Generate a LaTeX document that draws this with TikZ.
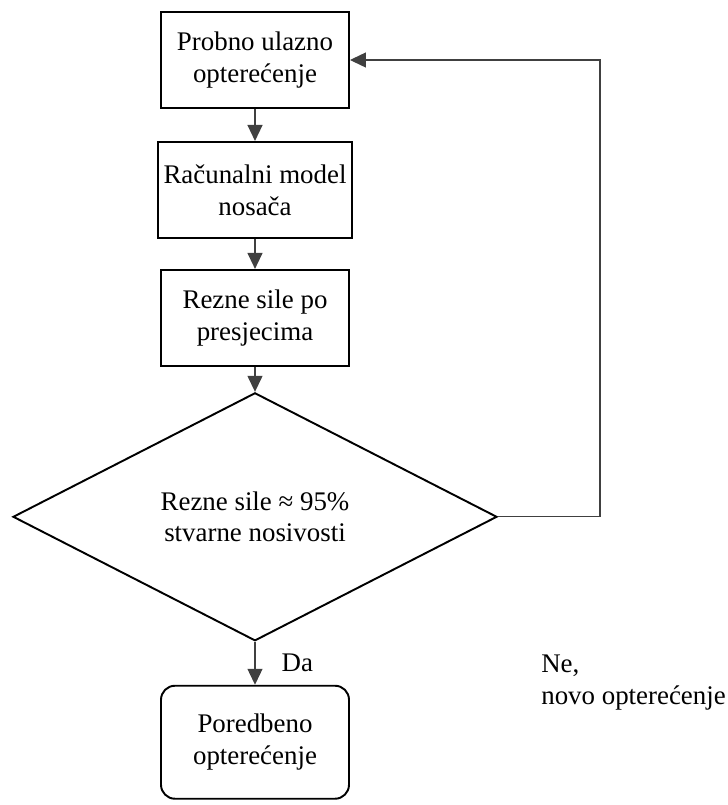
\documentclass[tikz,border=0pt]{standalone}
\usepackage{fontspec}
\setmainfont{Liberation Serif}
\usetikzlibrary{arrows.meta,positioning,shapes.geometric}

\begin{document}
\begin{tikzpicture}[
    node distance=0.62cm,
    box/.style={draw, line width=1.1pt, align=center, font=\fontsize{15.3}{18.2}\selectfont, minimum width=3.76cm, minimum height=1.92cm},
    decision/.style={box, diamond, minimum width=9.68cm, minimum height=4.96cm, inner sep=0pt},
    terminal/.style={box, rounded corners=0.28cm, minimum height=2.26cm},
    note/.style={font=\fontsize{15.3}{18.2}\selectfont, inner sep=0pt},
    link/.style={draw=black!75, line width=0.7pt, -{Triangle[length=0.32cm, width=0.3cm]}}]
    \useasboundingbox (0,0) rectangle (14.56,-16.1);
    \node[box] (trial) at (5.1,-1.2) {Probno ulazno\\opterećenje};
    \node[box, below=0.64cm of trial] (model) {Računalni model\\nosača};
    \node[box, below=0.6cm of model] (forces) {Rezne sile po\\presjecima};
    \node[decision, below=0.5cm of forces] (check) {Rezne sile ≈ 95\%\\stvarne nosivosti};
    \node[terminal, below=0.86cm of check] (result) {Poredbeno\\opterećenje};
    \coordinate (back) at (12.0,0);
    \draw[link] (trial) -- (model); \draw[link] (model) -- (forces); \draw[link] (forces) -- (check);
    \draw[link] (check) -- node[note, right=0.52cm] {Da} (result);
    \draw[link] (check.east) -| (back |- trial.east) -- (trial.east);
    \node[note, align=left, below right=2.75cm and 0.86cm of check.east] (retry) {Ne,\\novo opterećenje};
\end{tikzpicture}
\end{document}
